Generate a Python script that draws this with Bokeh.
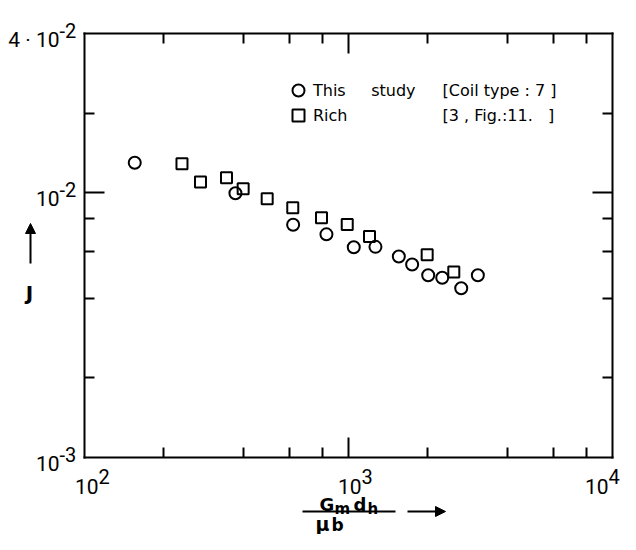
import math
from bokeh.plotting import figure
from bokeh.models import (LogAxis, FixedTicker, CustomJSTickFormatter, Label, Arrow,
                          NormalHead, Legend, LegendItem, Range1d)
from bokeh.embed import file_html
from bokeh.resources import INLINE

# ---------------- data ----------------
study_x = [155, 373, 617, 825, 1047, 1265, 1551, 1742, 2004, 2265, 2673, 3090]
study_j = [0.0130, 0.00997, 0.00758, 0.00697, 0.00623, 0.00625, 0.00575, 0.00536,
           0.00488, 0.00478, 0.00436, 0.00488]
rich_x = [234, 275, 345, 399, 492, 615, 790, 989, 1201, 1986, 2505]
rich_j = [0.01289, 0.01098, 0.0114, 0.01036, 0.0095, 0.00879, 0.00805, 0.0076,
          0.00684, 0.00583, 0.00502]

x_lim = (100, 10000)
y_lim = (0.001, 0.04)
x_major = [1000]
x_minor = [200, 400, 600, 800, 2000, 4000, 6000, 8000]
y_major = [0.01]
y_minor = [0.002, 0.004, 0.006, 0.008, 0.02]

x_tick_vals = [100, 1000, 10000]
x_tick_base = ["10", "10", "10"]
x_tick_exp = ["2", "3", "4"]
y_tick_vals = [0.001, 0.01, 0.04]
y_tick_base = ["10", "10", "4 · 10"]
y_tick_exp = ["-3", "-2", "-2"]

legend_labels = ["This\u00a0\u00a0\u00a0\u00a0\u00a0study", "Rich"]
legend_refs = ["[Coil type : 7 ]", "[3 , Fig.:11.\u00a0\u00a0\u00a0]"]

FONT = "Roboto"
LFONT = "DejaVu Sans"

# ---------------- layout (pixels) ----------------
W, H = 620, 534
BOX_L, BOX_R, BOX_T, BOX_B = 84, 612, 33, 457

# the frame covers the whole canvas; ranges are widened so that the
# axis box (x_lim, y_lim) sits at the pixel box above
xd = (BOX_R - BOX_L) / math.log10(x_lim[1] / x_lim[0])
yd = (BOX_B - BOX_T) / math.log10(y_lim[1] / y_lim[0])
x_range = Range1d(10 ** (math.log10(x_lim[0]) - BOX_L / xd),
                  10 ** (math.log10(x_lim[1]) + (W - BOX_R) / xd))
y_range = Range1d(10 ** (math.log10(y_lim[0]) - (H - BOX_B) / yd),
                  10 ** (math.log10(y_lim[1]) + BOX_T / yd))

p = figure(width=W, height=H, x_axis_type="log", y_axis_type="log",
           x_range=x_range, y_range=y_range,
           output_backend="svg", toolbar_location=None,
           x_axis_location=None, y_axis_location=None,
           min_border=0, min_border_left=0, min_border_right=0,
           min_border_top=0, min_border_bottom=0)
p.grid.visible = False
p.outline_line_color = None
p.background_fill_color = "white"
p.border_fill_color = "white"


def make_axis(major, minor, loc, bounds):
    return LogAxis(ticker=FixedTicker(ticks=major, minor_ticks=minor),
                   formatter=CustomJSTickFormatter(code="return ''"),
                   fixed_location=loc, bounds=bounds,
                   axis_line_width=2, axis_line_color="black", axis_line_cap="square",
                   major_tick_in=20, major_tick_out=0, major_tick_line_width=2,
                   minor_tick_in=10, minor_tick_out=0, minor_tick_line_width=2,
                   major_label_text_font_size="1px")


p.add_layout(make_axis(x_major, x_minor, y_lim[0], x_lim), "below")
p.add_layout(make_axis(x_major, x_minor, y_lim[1], x_lim), "above")
p.add_layout(make_axis(y_major, y_minor, x_lim[0], y_lim), "left")
p.add_layout(make_axis(y_major, y_minor, x_lim[1], y_lim), "right")

r_study = p.scatter(study_x, study_j, marker="circle", size=12, fill_color=None,
                    line_color="black", line_width=2)
r_rich = p.scatter(rich_x, rich_j, marker="square", size=11, fill_color=None,
                   line_color="black", line_width=2)

# legend: one box per row so that the row pitch matches
for i, (lab, r) in enumerate(zip(legend_labels, [r_study, r_rich])):
    lg = Legend(items=[LegendItem(label=lab, renderers=[r])],
                location=(283, H - 105 - 25 * i), orientation="vertical",
                glyph_width=30, glyph_height=30, label_height=30, spacing=0,
                label_standoff=0, padding=0, margin=0,
                border_line_color=None, background_fill_alpha=0,
                label_text_font=LFONT, label_text_font_size="16px",
                label_text_color="black")
    p.add_layout(lg, "center")

for i, t in enumerate(legend_refs):
    p.add_layout(Label(x=442, y=H - 90 - 25 * i, x_units="screen", y_units="screen",
                       text=t, text_font=LFONT, text_font_size="16px",
                       text_baseline="middle", text_align="left", text_color="black"))

# tick labels (base + raised exponent)
x_dx = [14, 13, -4]
for v, b, e, dx in zip(x_tick_vals, x_tick_base, x_tick_exp, x_dx):
    p.add_layout(Label(x=v, y=y_lim[0], x_offset=dx, y_offset=-29, text=b,
                       text_align="right", text_baseline="alphabetic",
                       text_font=FONT, text_font_size="21px", text_color="black"))
    p.add_layout(Label(x=v, y=y_lim[0], x_offset=dx, y_offset=-19, text=e,
                       text_align="left", text_baseline="alphabetic",
                       text_font=FONT, text_font_size="20px", text_color="black"))
for v, b, e in zip(y_tick_vals, y_tick_base, y_tick_exp):
    p.add_layout(Label(x=x_lim[0], y=v, x_offset=-25, y_offset=-6, text=b,
                       text_align="right", text_baseline="alphabetic",
                       text_font=FONT, text_font_size="21px", text_color="black"))
    p.add_layout(Label(x=x_lim[0], y=v, x_offset=-25, y_offset=3, text=e,
                       text_align="left", text_baseline="alphabetic",
                       text_font=FONT, text_font_size="20px", text_color="black"))

# y axis title: upward arrow + J
p.add_layout(Arrow(x_start=30, y_start=H - 263, x_end=30, y_end=H - 223,
                   start_units="screen", end_units="screen",
                   line_width=2, line_color="black",
                   end=NormalHead(size=10, fill_color="black", line_color="black")))
p.add_layout(Label(x=29, y=H - 292, x_units="screen", y_units="screen", text="J",
                   text_align="center", text_baseline="alphabetic", text_color="black",
                   text_font=LFONT, text_font_style="bold", text_font_size="20px"))

# x axis title: fraction Gm dh / mu_b + arrow
frac = [("G", 319, 504, "18px"), ("m", 334, 508, "15px"),
        ("d", 353, 504, "18px"), ("h", 367, 508, "15px"),
        ("μ", 315, 523, "19px"), ("b", 331, 524, "17px")]
for t, px, py, fs in frac:
    p.add_layout(Label(x=px, y=H - py, x_units="screen", y_units="screen", text=t,
                       text_align="left", text_baseline="alphabetic", text_color="black",
                       text_font=LFONT, text_font_style="bold", text_font_size=fs))
p.add_layout(Arrow(x_start=302, y_start=H - 511, x_end=395, y_end=H - 511,
                   start_units="screen", end_units="screen",
                   line_width=2, line_color="black", end=None))
p.add_layout(Arrow(x_start=407, y_start=H - 511, x_end=445, y_end=H - 511,
                   start_units="screen", end_units="screen",
                   line_width=2, line_color="black",
                   end=NormalHead(size=10, fill_color="black", line_color="black")))

open("out.html", "w").write(file_html(p, INLINE))
